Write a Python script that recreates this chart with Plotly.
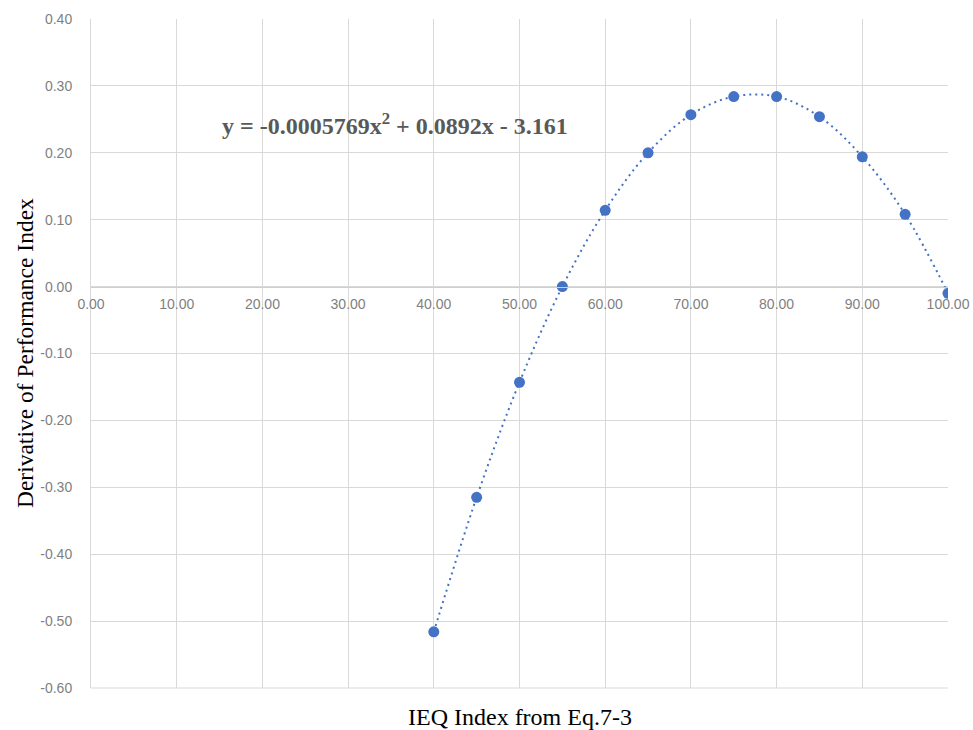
import plotly.graph_objects as go

ieq_index = [40, 45, 50, 55, 60, 65, 70, 75, 80, 85, 90, 95, 100]
derivative = [-0.516, -0.315, -0.143, 0.000, 0.114, 0.200, 0.257, 0.284, 0.284, 0.254, 0.194, 0.108, -0.010]

x_ticks = [0, 10, 20, 30, 40, 50, 60, 70, 80, 90, 100]
y_ticks = [-0.6, -0.5, -0.4, -0.3, -0.2, -0.1, 0.0, 0.1, 0.2, 0.3, 0.4]

equation_text = "<b>y = -0.0005769x<sup>2</sup> + 0.0892x - 3.161</b>"
x_title = "IEQ Index from Eq.7-3"
y_title = "Derivative of Performance Index"

blue = "#4472C4"
grid = "#D9D9D9"
tick_col = "#7F7F7F"

fig = go.Figure()
fig.add_trace(go.Scatter(
    x=ieq_index, y=derivative, mode="lines",
    line=dict(color=blue, width=2, dash="2px,4px", shape="spline", smoothing=1.0),
    hoverinfo="skip", showlegend=False))
fig.add_trace(go.Scatter(
    x=ieq_index, y=derivative, mode="markers",
    marker=dict(color=blue, size=11),
    showlegend=False))

fig.update_layout(
    width=973, height=730,
    margin=dict(l=91, r=25, t=19, b=42, autoexpand=False),
    paper_bgcolor="white", plot_bgcolor="white",
    xaxis=dict(range=[0, 100], tickvals=x_ticks,
               ticktext=[f"{v:.2f}" for v in x_ticks],
               anchor="free", position=0.6, automargin=False,
               showgrid=True, gridcolor=grid, gridwidth=1,
               showline=True, linecolor="#CFCFCF", linewidth=1,
               zeroline=False, ticks="", ticklabelstandoff=5,
               tickfont=dict(family="Liberation Sans, Arial", size=14, color=tick_col)),
    yaxis=dict(range=[-0.6, 0.4], tickvals=y_ticks,
               ticktext=[f"{v:.2f}" for v in y_ticks],
               automargin=False,
               showgrid=True, gridcolor=grid, gridwidth=1,
               showline=True, linecolor=grid, linewidth=1,
               zeroline=False, ticks="", ticklabelstandoff=15,
               tickfont=dict(family="Liberation Sans, Arial", size=14, color=tick_col)),
    annotations=[
        dict(text=equation_text, x=0.1505, y=0.843, xref="paper", yref="paper",
             xanchor="left", yanchor="middle", showarrow=False,
             font=dict(family="Liberation Serif, Times New Roman", size=24, color="#595959")),
        dict(text=x_title, x=0.5, y=-0.044, xref="paper", yref="paper",
             xanchor="center", yanchor="middle", showarrow=False,
             font=dict(family="Liberation Serif, Times New Roman", size=24, color="black")),
        dict(text=y_title, x=-0.0775, y=0.5, xref="paper", yref="paper",
             xanchor="center", yanchor="middle", showarrow=False, textangle=-90,
             font=dict(family="Liberation Serif, Times New Roman", size=23.5, color="black")),
    ],
)
fig.add_shape(type="line", xref="paper", yref="paper", x0=0, x1=1, y0=0, y1=0,
              line=dict(color=grid, width=1))
fig.write_html("out.html", config={"displayModeBar": False},
               post_script="document.body.style.margin='0';document.body.style.overflow='hidden';")
